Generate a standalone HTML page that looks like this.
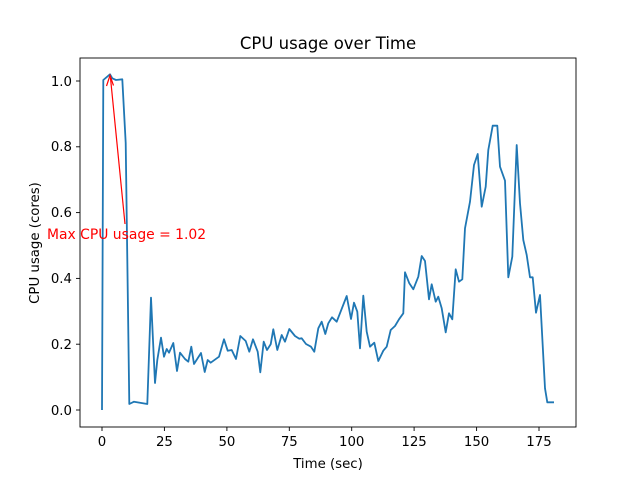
<!DOCTYPE html>
<html><head><meta charset="utf-8"><style>body{margin:0;background:#fff}svg{display:block}text{font-family:"DejaVu Sans","Liberation Sans",sans-serif}</style></head><body>
<svg width="640" height="480" viewBox="0 0 640 480" xmlns="http://www.w3.org/2000/svg">
<rect width="640" height="480" fill="#fff"/>
<polyline fill="none" stroke="#1f77b4" stroke-width="1.8" stroke-linejoin="round" points="102,410 103.3,80 110,74.3 112.3,78.3 116,80 122.3,79.3 125.7,143 129.3,404 134,401.7 147.3,404 151,297.7 155,383 157.3,360 161,337.7 164,356.7 166.7,349 169,352.7 173.3,343 177,371 180,352.7 185,359 188.3,361.7 191.3,346.7 194,364 201,353 204.7,372 207.7,360 210.7,362.7 219,356.7 224,339.3 227.7,350.7 231.7,350 236,359 240.3,336 245.7,341 249.3,351.7 253,339.3 257.7,351.7 260.3,372.3 263.7,341.7 267,350 270.7,344.3 273.3,329.3 277.3,350 281.7,335 285,341.7 289.3,329 295,336 299.3,338.7 301.7,338.3 306,344 311,346.7 314.3,351.7 318.3,328.3 321.7,321.7 325.3,334 328.3,323.3 332,317.3 336.7,321.7 346.7,296 351,319 354,302.7 357.3,311.7 360,348.3 363.3,295.7 366.7,331.7 370,346.7 374.3,342.7 378.3,361 383.3,350.7 386.7,346.7 390.7,330 395,326 399,319.3 403.3,313.3 405,272.3 409.3,283.3 413.3,289.3 418.3,276.7 421.7,256 425,261 429,299.3 431.7,284.3 435.7,301.7 438.3,296.7 441.7,308.3 445.7,332.3 449,313.3 452.3,319.3 455.7,269.3 459,281.7 462.3,279.3 465,228.3 470,201.7 474,165 477.7,154 481.7,206.7 485.7,186.7 488.3,150 492.7,125.7 497.3,125.7 500,166.7 505,180.7 508.3,277.3 512.3,256.7 516.7,145 520,203.3 523.3,240 526.7,255 530,277.3 532.7,277.3 536,312.7 540,295 545,388.3 547.3,402.3 554,402.3"/>
<line x1="125" y1="224" x2="110.5" y2="78" stroke="red" stroke-width="1.2"/>
<polyline points="106.5,86 110,75.5 113.5,85.5" fill="none" stroke="red" stroke-width="1.2"/>
<text x="47" y="239" font-size="13.9" fill="red">Max CPU usage = 1.02</text>
<rect x="80" y="58" width="496" height="369" fill="none" stroke="#000" stroke-width="0.9"/>
<g stroke="#000" stroke-width="0.9">
<line x1="102" y1="427" x2="102" y2="431"/><line x1="164.4" y1="427" x2="164.4" y2="431"/><line x1="226.9" y1="427" x2="226.9" y2="431"/><line x1="289.3" y1="427" x2="289.3" y2="431"/><line x1="351.7" y1="427" x2="351.7" y2="431"/><line x1="414.1" y1="427" x2="414.1" y2="431"/><line x1="476.6" y1="427" x2="476.6" y2="431"/><line x1="539" y1="427" x2="539" y2="431"/>
<line x1="76" y1="410" x2="80" y2="410"/><line x1="76" y1="344.2" x2="80" y2="344.2"/><line x1="76" y1="278.4" x2="80" y2="278.4"/><line x1="76" y1="212.6" x2="80" y2="212.6"/><line x1="76" y1="146.8" x2="80" y2="146.8"/><line x1="76" y1="81" x2="80" y2="81"/>
</g>
<g font-size="13.3" text-anchor="middle" fill="#000">
<text x="102" y="446">0</text><text x="164.4" y="446">25</text><text x="226.9" y="446">50</text><text x="289.3" y="446">75</text><text x="351.7" y="446">100</text><text x="414.1" y="446">125</text><text x="476.6" y="446">150</text><text x="539" y="446">175</text>
</g>
<g font-size="13.3" text-anchor="end" fill="#000">
<text x="72" y="415">0.0</text><text x="72" y="349">0.2</text><text x="72" y="283">0.4</text><text x="72" y="217">0.6</text><text x="72" y="151">0.8</text><text x="72" y="86">1.0</text>
</g>
<text x="328" y="468" font-size="13.3" text-anchor="middle">Time (sec)</text>
<text transform="translate(39,243) rotate(-90)" font-size="13.3" text-anchor="middle">CPU usage (cores)</text>
<text x="328" y="49" font-size="16.5" text-anchor="middle">CPU usage over Time</text>
</svg>
</body></html>
